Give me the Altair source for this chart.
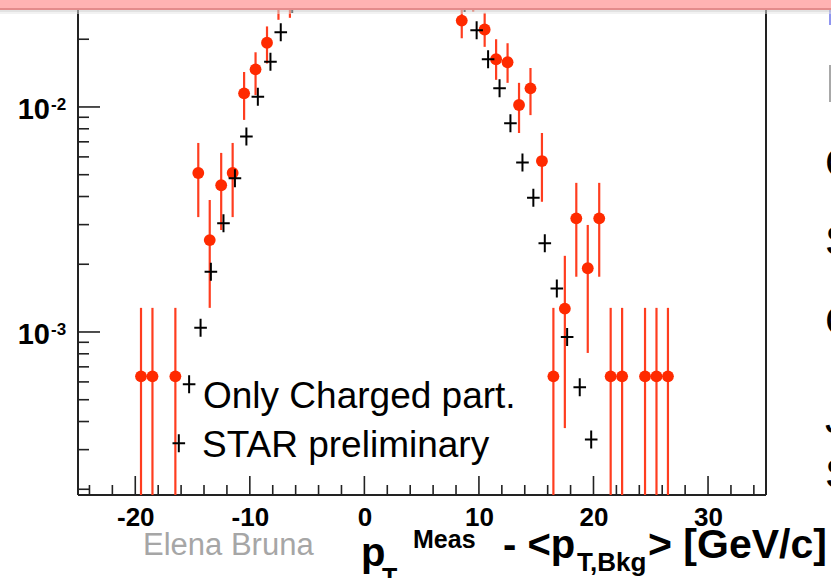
import altair as alt
import pandas as pd

# ---------------- data ----------------
# red points ("Only Charged part."), bin centres, values and error-bar ends
red_x = [-19.5, -18.5, -16.5, -14.5, -13.5, -12.5, -11.5, -10.5, -9.5, -8.5, -7.5, -6.5,
         8.5, 9.5, 10.5, 11.5, 12.5, 13.5, 14.5, 15.5, 16.5, 17.5, 18.5, 19.5, 20.5,
         21.5, 22.5, 24.5, 25.5, 26.5]
red_y = [6.35e-4, 6.35e-4, 6.35e-4, 5.09e-3, 2.56e-3, 4.49e-3, 5.09e-3, 1.15e-2, 1.47e-2, 1.93e-2, 2.88e-2, 2.92e-2,
         2.42e-2, 3.10e-2, 2.21e-2, 1.63e-2, 1.58e-2, 1.02e-2, 1.21e-2, 5.75e-3, 6.35e-4, 1.27e-3, 3.20e-3, 1.92e-3, 3.20e-3,
         6.35e-4, 6.35e-4, 6.35e-4, 6.35e-4, 6.35e-4]
red_lo = [1e-4, 1e-4, 1e-4, 3.24e-3, 1.28e-3, 2.84e-3, 3.24e-3, 8.76e-3, 1.13e-2, 1.56e-2, 2.44e-2, 2.49e-2,
          2.02e-2, 2.65e-2, 1.85e-2, 1.32e-2, 1.28e-2, 7.66e-3, 9.20e-3, 3.79e-3, 1e-4, 3.74e-4, 1.76e-3, 8.07e-4, 1.76e-3,
          1e-4, 1e-4, 1e-4, 1e-4, 1e-4]
red_hi = [1.28e-3, 1.28e-3, 1.28e-3, 6.92e-3, 3.86e-3, 6.25e-3, 6.92e-3, 1.43e-2, 1.75e-2, 2.28e-2, 3.30e-2, 3.40e-2,
          2.81e-2, 3.50e-2, 2.62e-2, 2.00e-2, 1.92e-2, 1.28e-2, 1.49e-2, 7.66e-3, 1.28e-3, 2.18e-3, 4.60e-3, 2.99e-3, 4.60e-3,
          1.28e-3, 1.28e-3, 1.28e-3, 1.28e-3, 1.28e-3]

# black crosses ("STAR preliminary")
black_x = [-16.2, -15.3, -14.3, -13.4, -12.3, -11.3, -10.3, -9.3, -8.2, -7.3, -6.3,
           8.75, 9.8, 10.8, 11.8, 12.75, 13.8, 14.75, 15.75, 16.8, 17.7, 18.8, 19.8]
black_y = [3.20e-4, 5.86e-4, 1.045e-3, 1.85e-3, 3.04e-3, 4.82e-3, 7.39e-3, 1.11e-2, 1.59e-2, 2.15e-2, 2.87e-2,
           2.90e-2, 2.19e-2, 1.63e-2, 1.21e-2, 8.47e-3, 5.66e-3, 3.95e-3, 2.48e-3, 1.56e-3, 9.5e-4, 5.68e-4, 3.33e-4]

# axes
x_major = [-20, -10, 0, 10, 20, 30]
x_minor = [-24, -22, -18, -16, -14, -12, -8, -6, -4, -2, 2, 4, 6, 8, 12, 14, 16, 18, 22, 24, 26, 28, 32, 34]
y_major = [1e-3, 1e-2]
y_major_exp = ["-3", "-2"]
y_minor = [2e-4, 3e-4, 4e-4, 5e-4, 6e-4, 7e-4, 8e-4, 9e-4,
           2e-3, 3e-3, 4e-3, 5e-3, 6e-3, 7e-3, 8e-3, 9e-3, 2e-2]

# texts
txt_line1 = "Only Charged part."
txt_line2 = "STAR preliminary"
txt_author = "Elena Bruna"
side_letters = ["C", "S", "C", "J", "S"]

# ---------------- chart ----------------
W, H = 688, 495
FONT = "Liberation Sans"
xs = alt.Scale(domain=[-25, 35.06], nice=False, zero=False)
ys = alt.Scale(type="log", domain=[1.886e-4, 0.02988], nice=False)
XAX = alt.Axis(values=x_major, labelExpr="'' + datum.value", labelFont=FONT, labelFontWeight="bold",
               labelFontSize=26, labelColor="black", ticks=False, tickSize=0, domain=False, grid=False,
               labelPadding=9, labelOverlap=False, labelFlush=False, title=None)

red = pd.DataFrame({"x": red_x, "y": red_y, "lo": red_lo, "hi": red_hi})
blk = pd.DataFrame({"x": black_x, "y": black_y})
xmaj = pd.DataFrame({"x": x_major})
xmin = pd.DataFrame({"x": x_minor})
ymaj = pd.DataFrame({"y": y_major, "e": y_major_exp})
ymin = pd.DataFrame({"y": y_minor})
dummy = pd.DataFrame({"k": [0]})

X = lambda f="x": alt.X(f"{f}:Q", scale=xs, axis=XAX)
Y = lambda f="y": alt.Y(f"{f}:Q", scale=ys, axis=None)

layers = []
# frame
for (x1, x2, y1, y2) in [(0, 0, 0, H), (W, W, 0, H), (0, W, H, H)]:
    layers.append(alt.Chart(dummy).mark_rule(color="#222222", strokeWidth=2).encode(
        x=alt.value(x1), x2=alt.value(x2), y=alt.value(y1), y2=alt.value(y2)))
# x ticks (pointing inward)
layers.append(alt.Chart(xmaj).mark_rule(color="#222222", strokeWidth=1.6).encode(
    x=X(), y=alt.value(H), y2=alt.value(H - 19)))
layers.append(alt.Chart(xmin).mark_rule(color="#222222", strokeWidth=1.6).encode(
    x=X(), y=alt.value(H), y2=alt.value(H - 10)))
# y ticks
layers.append(alt.Chart(ymaj).mark_rule(color="#222222", strokeWidth=1.6).encode(
    y=Y(), x=alt.value(0), x2=alt.value(22)))
layers.append(alt.Chart(ymin).mark_rule(color="#222222", strokeWidth=1.6).encode(
    y=Y(), x=alt.value(0), x2=alt.value(11)))
# y labels 10^n
layers.append(alt.Chart(ymaj).mark_text(align="right", baseline="middle", dy=3, font=FONT,
                                        fontWeight="bold", fontSize=29, color="black").encode(
    y=Y(), x=alt.value(-28), text=alt.value("10")))
layers.append(alt.Chart(ymaj).mark_text(align="left", baseline="alphabetic", dy=3, font=FONT,
                                        fontWeight="bold", fontSize=17, color="black").encode(
    y=Y(), x=alt.value(-27), text="e:N"))
# red error bars and points
layers.append(alt.Chart(red).mark_rule(color="#FF3D1F", strokeWidth=2.2, clip=True).encode(
    x=X(), y=Y("lo"), y2="hi:Q"))
layers.append(alt.Chart(red).mark_point(shape="circle", filled=True, size=140, color="#FF2A00",
                                        opacity=1, clip=True).encode(x=X(), y=Y()))
# black crosses
layers.append(alt.Chart(blk).mark_point(shape="M-0.7,0H0.7M0,-1V1", filled=False, size=324, color="black",
                                        strokeWidth=2, opacity=1, clip=True).encode(x=X(), y=Y()))


def txt(s, x, y, size, weight="normal", color="black"):
    return alt.Chart(dummy).mark_text(align="left", baseline="alphabetic", font=FONT, fontSize=size,
                                      fontWeight=weight, color=color).encode(
        x=alt.value(x), y=alt.value(y), text=alt.value(s))


layers.append(txt(txt_line1, 125, 408, 37))
layers.append(txt(txt_line2, 124, 457, 37))
layers.append(txt(txt_author, 65, 555, 31, color="#A6A6A6"))
# x title pieces
layers.append(txt("p", 283, 566, 40, "bold"))
layers.append(txt("T", 304, 586, 25, "bold"))
layers.append(txt("Meas", 335, 548, 25, "bold"))
layers.append(txt("- <p", 425, 558, 40, "bold"))
layers.append(txt("T,Bkg", 499, 571, 26, "bold"))
layers.append(txt("> [GeV/c]", 570, 558, 41, "bold"))
# cut slide text on the right
for s, yb in zip(side_letters, [177, 255, 335, 433, 488]):
    layers.append(txt(s, 747, yb, 42))
layers.append(alt.Chart(dummy).mark_rule(color="#A8A8A8", strokeWidth=2).encode(
    x=alt.value(752), y=alt.value(65), y2=alt.value(102)))
layers.append(alt.Chart(dummy).mark_rule(color="#8F95F0", strokeWidth=2).encode(
    x=alt.value(752), y=alt.value(10), y2=alt.value(25)))
# pink slide band at the top
for (y1, y2, col, op) in [(0, 8, "#FFB3B3", 1), (8, 10, "#E38C8C", 1), (10, 12, "#CFCFCF", 0.6), (12, 14, "#E6E6E6", 0.5)]:
    layers.append(alt.Chart(dummy).mark_rect(color=col, opacity=op).encode(
        x=alt.value(-78), x2=alt.value(753), y=alt.value(y1), y2=alt.value(y2)))

chart = alt.layer(*layers).properties(
    width=W, height=H,
    padding={"left": 78, "top": 0, "right": 65, "bottom": 83},
    autosize=alt.AutoSizeParams(type="none"),
    background="white",
).configure_view(stroke="transparent")

chart.save("out.html", embed_options={"renderer": "svg", "actions": False})
